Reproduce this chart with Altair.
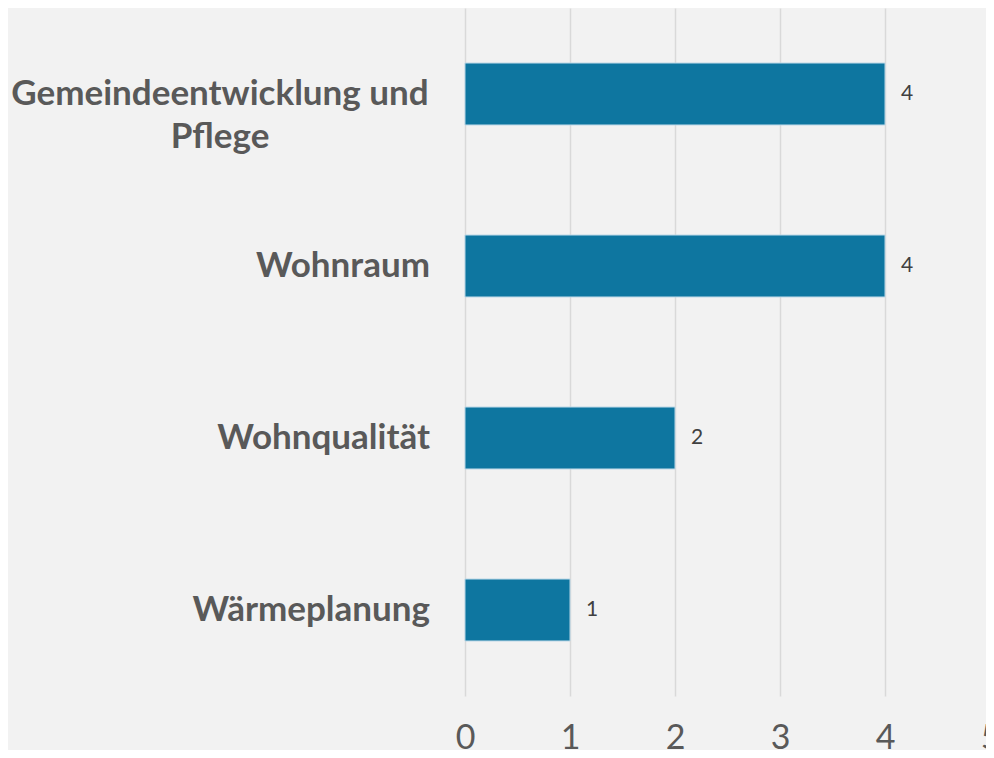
import altair as alt
import pandas as pd

categories = ["Gemeindeentwicklung und Pflege", "Wohnraum", "Wohnqualität", "Wärmeplanung"]
label_lines = ["Gemeindeentwicklung und\nPflege", "Wohnraum", "Wohnqualität", "Wärmeplanung"]
values = [4, 4, 2, 1]
x_ticks = [0, 1, 2, 3, 4, 5]

df = pd.DataFrame({"cat": categories, "label": label_lines, "value": values})
df["multi"] = df["label"].str.contains("\n")

FONT = "Lato"
y = alt.Y("cat:N", sort=categories, axis=None,
          scale=alt.Scale(paddingInner=0.64, paddingOuter=0.32))
x = alt.X("value:Q", scale=alt.Scale(domain=[0, 5], nice=False),
          axis=alt.Axis(values=x_ticks, title=None, grid=True, gridColor="#d9d9d9",
                        gridWidth=1.5, domain=False, ticks=False, labelFontSize=34,
                        labelColor="#595959", labelFont=FONT, labelPadding=25,
                        format="d", labelFlush=False))

base = alt.Chart(df)

bars = base.mark_bar(color="#0e76a0", stroke="#b8d6e6", strokeWidth=1).encode(x=x, y=y)

vals = base.mark_text(align="left", baseline="middle", dx=16, fontSize=21,
                      color="#404040", font=FONT).encode(x=x, y=y, text="value:Q")

single = base.transform_filter("datum.multi == false").mark_text(
    align="right", baseline="middle", fontSize=35, fontWeight="bold",
    color="#595959", font=FONT).encode(x=alt.value(-35), y=y, text="label:N")

multi = base.transform_filter("datum.multi == true").mark_text(
    align="center", baseline="middle", fontSize=35, fontWeight="bold",
    color="#595959", font=FONT, lineBreak="\n", lineHeight=43).encode(
    x=alt.value(-245), y=y, text="label:N")

chart = alt.layer(bars, vals, single, multi).properties(
    width=525, height=688,
    background="#f2f2f2",
    autosize=alt.AutoSizeParams(type="none"),
    padding={"left": 457, "top": 0, "right": -4, "bottom": 54},
).configure_view(stroke=None)

chart.save("out.html", embed_options={"renderer": "svg", "actions": False})
